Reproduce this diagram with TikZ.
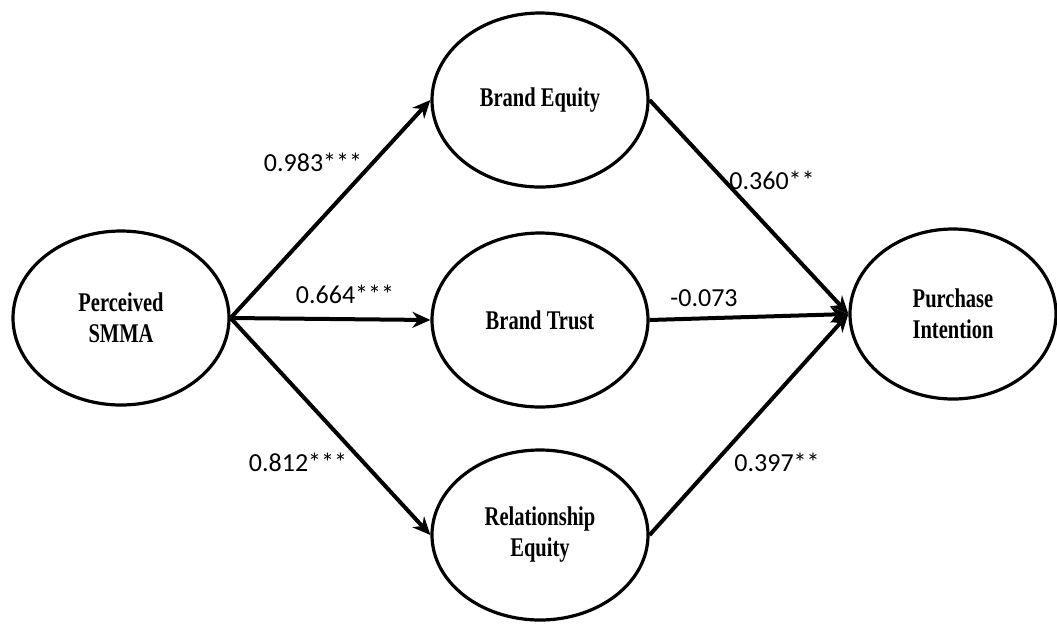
\documentclass[tikz,border=0pt]{standalone}
\usepackage{fontspec}
\setmainfont{Liberation Serif}
\newfontfamily\constructfont[FakeStretch=0.76]{Liberation Serif}
\newfontfamily\coeffont{Carlito}
\usetikzlibrary{positioning,shapes.geometric,arrows.meta}

\begin{document}
\begin{tikzpicture}[
    x=0.5pt, y=-0.5pt,
    construct/.style={draw, ellipse, line width=1.6pt, align=center, inner sep=0pt,
      minimum width=108pt, minimum height=87pt,
      font=\constructfont\fontsize{13.5}{15.5}\selectfont\bfseries},
    path/.style={line width=2pt, -{Stealth[length=9pt,width=8pt]}},
    coef/.style={font=\coeffont\fontsize{13}{15}\selectfont, inner sep=0pt}
  ]
    \useasboundingbox (0,0) rectangle (1057,623);

    % constructs
    \node[construct] (smma) at (121,318) {Perceived\\SMMA};
    \node[construct] (equity) at (540,100) {Brand Equity};
    \node[construct] (trust) at (540,320) {Brand Trust};
    \node[construct, minimum height=85pt] (releq) at (540,535) {Relationship\\Equity};
    \node[construct, minimum width=103pt, minimum height=85pt] (purchase) at (953,314) {Purchase\\Intention};

    % paths
    \draw[path] (smma.east) -- (equity.west);
    \draw[path] (smma.east) -- (trust.west);
    \draw[path] (smma.east) -- (releq.west);
    \draw[path] (equity.east) -- (purchase.west);
    \draw[path] (trust.east) -- (purchase.west);
    \draw[path] (releq.east) -- (purchase.west);

    % coefficients
    \node[coef] (c1) at (313,162) {0.983***};
    \node[coef] (c2) at (345,294) {0.664***};
    \node[coef] (c3) at (298,462) {0.812***};
    \node[coef] (c4) at (772,180) {0.360**};
    \node[coef] (c5) at (704,298) {-0.073};
    \node[coef] (c6) at (777,462) {0.397**};
  \end{tikzpicture}
\end{document}
